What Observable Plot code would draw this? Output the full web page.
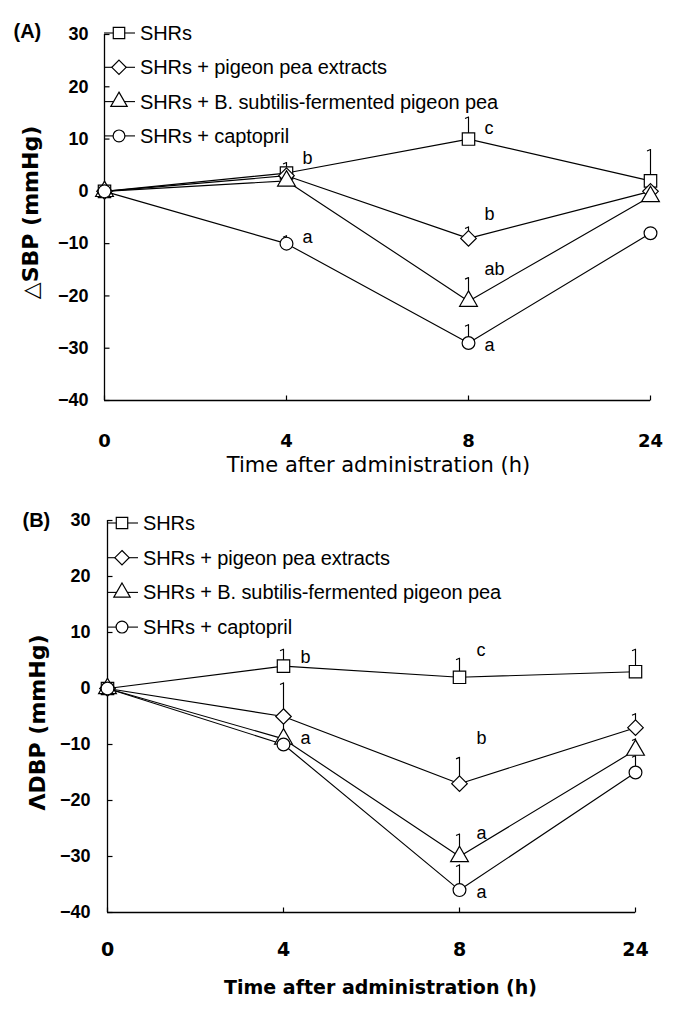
<!DOCTYPE html>
<html>
<head>
<meta charset="utf-8">
<script src="https://cdn.jsdelivr.net/npm/d3@7"></script>
<script src="https://cdn.jsdelivr.net/npm/@observablehq/plot@0.6"></script>
<style>
  body { margin: 0; background: #fff; }
  #chart { width: 677px; }
  #chart svg { display: block; }
</style>
</head>
<body>
<div id="chart"></div>
<script>
// ---------- data ----------
const times = [0, 4, 8, 24];
const groups = [
  "SHRs",
  "SHRs + pigeon pea extracts",
  "SHRs + B. subtilis-fermented pigeon pea",
  "SHRs + captopril"
];
const yTicks = [-40, -30, -20, -10, 0, 10, 20, 30];
const xLabel = "Time after administration (h)";
const yLabelA = "△SBP (mmHg)";
const yLabelB = "ΛDBP (mmHg)";

// Panel A: change in systolic blood pressure (mean, upper error)
const sbpSHRs    = [0, 3.5, 10, 2];
const sbpSHRsErr = [0, 2, 4.2, 6];
const sbpPigeon    = [0, 3, -9, 0];
const sbpPigeonErr = [0, 1.5, 2.2, 1];
const sbpFerm    = [0, 2, -21, -1];
const sbpFermErr = [0, 1, 4.5, 1];
const sbpCapto    = [0, -10, -29, -8];
const sbpCaptoErr = [0, 1.5, 3.5, 1];
const lettersA     = ["b", "a", "c", "b", "ab", "a"];
const letterTimesA = [4, 4, 8, 8, 8, 8];
const letterYA     = [6.3, -8.7, 12.1, -4.4, -14.8, -29.4];

// Panel B: change in diastolic blood pressure (mean, upper error)
const dbpSHRs    = [0, 4, 2, 3];
const dbpSHRsErr = [0, 3, 3.4, 4];
const dbpPigeon    = [0, -5, -17, -7];
const dbpPigeonErr = [0, 6, 4.7, 2.5];
const dbpFerm    = [0, -9, -30, -11];
const dbpFermErr = [0, 4, 4, 2];
const dbpCapto    = [0, -10, -36, -15];
const dbpCaptoErr = [0, 1, 4.5, 3];
const lettersB     = ["b", "a", "c", "b", "a", "a"];
const letterTimesB = [4, 4, 8, 8, 8, 8];
const letterYB     = [5.5, -8.9, 6.8, -8.9, -25.9, -36.4];

// ---------- styles ----------
const symbolNames = ["square", "diamond2", "triangle", "circle"];
const d3Symbols = [d3.symbolSquare, d3.symbolDiamond2, d3.symbolTriangle, d3.symbolCircle];
const symbolR = [7, 7, 6.6, 6.4];
const arial = "'Liberation Sans', Arial, sans-serif";
const dejavu = "'DejaVu Sans', Verdana, sans-serif";
const capSymbol = {draw(ctx) { ctx.moveTo(-3.5, 1.5); ctx.lineTo(0, 0); }};
const tickRight = {draw(ctx) { ctx.moveTo(0, 0); ctx.lineTo(5, 0); }};
const tickUp = {draw(ctx) { ctx.moveTo(0, 0); ctx.lineTo(0, -5); }};

function buildRows(means, errs) {
  const rows = [];
  groups.forEach((g, gi) => times.forEach((t, ti) => {
    rows.push({group: g, gi, time: t, value: means[gi][ti], err: errs[gi][ti]});
  }));
  return rows;
}

function buildLetters(texts, ts, ys) {
  return texts.map((t, i) => ({text: t, time: ts[i], y: ys[i]}));
}

function panel(cfg) {
  const rows = cfg.rows;
  const withErr = rows.filter(d => d.err > 0);
  const marks = [
    Plot.ruleY([-40], {stroke: "black", strokeWidth: 1.3}),
    Plot.ruleX([0], {stroke: "black", strokeWidth: 1.3}),
    Plot.dot(yTicks, {y: d => d, frameAnchor: "left", symbol: tickRight, fill: "none", stroke: "black", strokeWidth: 1.2}),
    Plot.dot(times, {x: d => d, frameAnchor: "bottom", symbol: tickUp, fill: "none", stroke: "black", strokeWidth: 1.2}),
    Plot.axisY({ticks: yTicks, tickSize: 0, tickPadding: cfg.yTickPad, fontSize: 18, fontWeight: "bold",
                fontFamily: arial, label: null}),
    Plot.axisX({ticks: times, tickSize: 0, tickPadding: cfg.xTickPad, fontSize: cfg.xTickFont, fontWeight: "bold",
                fontFamily: dejavu, label: null}),
    Plot.line(rows, {x: "time", y: "value", z: "group", stroke: "black", strokeWidth: 1.15}),
    Plot.ruleX(withErr, {x: "time", y1: "value", y2: d => d.value + d.err, stroke: "black", strokeWidth: 1.15}),
    Plot.dot(withErr, {x: "time", y: d => d.value + d.err, symbol: capSymbol, fill: "none", stroke: "black", strokeWidth: 1.1}),
    ...groups.map((g, gi) => Plot.dot(rows.filter(d => d.gi === gi), {
      x: "time", y: "value", symbol: symbolNames[gi], r: symbolR[gi],
      fill: "white", stroke: "black", strokeWidth: 1.2
    })),
    Plot.text(cfg.letters, {x: "time", y: "y", text: "text", dx: cfg.letterDx, textAnchor: "start",
                            fontSize: 18, fontFamily: arial, fill: "black"}),
    Plot.text([cfg.yLabel], {frameAnchor: "left", rotate: -90, dx: cfg.yLabelDx, dy: cfg.yLabelDy,
                             textAnchor: "middle", lineAnchor: "middle",
                             fontSize: 22, fontWeight: "bold", fontFamily: dejavu, fill: "black"}),
    Plot.text([xLabel], {frameAnchor: "bottom", dy: cfg.xLabelDy, dx: cfg.xLabelDx, fontSize: cfg.xLabelFont,
                         textAnchor: "middle", lineAnchor: "middle", letterSpacing: cfg.xLabelSpacing,
                         fontWeight: cfg.xLabelWeight, fontFamily: dejavu, fill: "black"}),
    Plot.text([cfg.tag], {frameAnchor: "top-left", dx: cfg.tagDx, dy: cfg.tagDy, textAnchor: "start",
                          lineAnchor: "middle",
                          fontSize: 20, fontWeight: "bold", fontFamily: arial, fill: "black"})
  ];
  const svg = Plot.plot({
    width: 677,
    height: cfg.height,
    marginTop: cfg.mt, marginBottom: cfg.mb, marginLeft: cfg.ml, marginRight: cfg.mr,
    x: {type: "point", domain: times, padding: 0},
    y: {domain: [-40, 30]},
    style: {background: "white", color: "black", fontFamily: arial, overflow: "visible"},
    marks
  });
  // legend inside the plot area, upper left
  const g = d3.select(svg).append("g").attr("class", "legend").attr("text-anchor", "start");
  groups.forEach((name, i) => {
    const y = cfg.legendTop + i * cfg.legendGap;
    g.append("line").attr("x1", cfg.ml).attr("x2", cfg.ml + 31).attr("y1", y).attr("y2", y)
      .attr("stroke", "black").attr("stroke-width", 1.1);
    g.append("path").attr("transform", `translate(${cfg.ml + 15},${y})`)
      .attr("d", d3.symbol(d3Symbols[i], Math.PI * symbolR[i] * symbolR[i] * 0.85)())
      .attr("fill", "white").attr("stroke", "black").attr("stroke-width", 1.2);
    g.append("text").attr("x", cfg.ml + 36).attr("y", y).attr("dy", "0.35em")
      .attr("text-anchor", "start")
      .attr("font-family", arial).attr("font-size", 20).attr("letter-spacing", "-0.1")
      .attr("fill", "black").text(name);
  });
  return svg;
}

const chart = document.getElementById("chart");
chart.append(panel({
  rows: buildRows([sbpSHRs, sbpPigeon, sbpFerm, sbpCapto], [sbpSHRsErr, sbpPigeonErr, sbpFermErr, sbpCaptoErr]),
  letters: buildLetters(lettersA, letterTimesA, letterYA),
  height: 490, mt: 34, mb: 90, ml: 104, mr: 27,
  yTickPad: 16, xTickPad: 34, xTickFont: 18,
  letterDx: 16, yLabel: yLabelA, yLabelDx: -74, yLabelDy: -5,
  xLabelDy: 65, xLabelDx: 1, xLabelFont: 21, xLabelWeight: "normal", xLabelSpacing: 0.9,
  tag: "(A)", tagDx: -91, tagDy: -3,
  legendTop: 33, legendGap: 34.3
}));
chart.append(panel({
  rows: buildRows([dbpSHRs, dbpPigeon, dbpFerm, dbpCapto], [dbpSHRsErr, dbpPigeonErr, dbpFermErr, dbpCaptoErr]),
  letters: buildLetters(lettersB, letterTimesB, letterYB),
  height: 525, mt: 30, mb: 103, ml: 107, mr: 42,
  yTickPad: 17, xTickPad: 30, xTickFont: 19,
  letterDx: 17, yLabel: yLabelB, yLabelDx: -70, yLabelDy: 6,
  xLabelDy: 75, xLabelDx: 9, xLabelFont: 19, xLabelWeight: "bold", xLabelSpacing: 0,
  tag: "(B)", tagDx: -85, tagDy: 0,
  legendTop: 33, legendGap: 34.7
}));
</script>
</body>
</html>
